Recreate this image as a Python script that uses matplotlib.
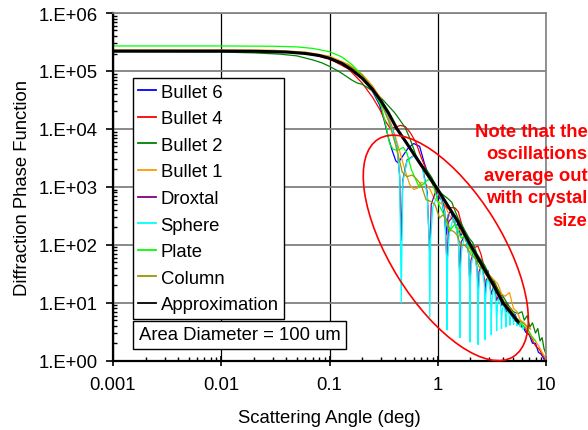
import numpy as np
import matplotlib
matplotlib.use("Agg")
import matplotlib.pyplot as plt
from matplotlib.patches import Ellipse
from matplotlib.transforms import IdentityTransform
from matplotlib.ticker import LogLocator, NullFormatter

plt.rcParams['font.family'] = ['Liberation Sans', 'DejaVu Sans']

# values: (scattering angle in deg, phase function)
bullet6 = [(0.001, 2.2e5), (0.01, 2.2e5), (0.03, 2.19e5), (0.06, 2.04e5), (0.1, 1.68e5),
           (0.15, 1.2e5), (0.2, 7.6e4), (0.25, 4.4e4), (0.29, 2.6e4), (0.32, 1.4e4),
           (0.35, 7.0e3), (0.38, 4.2e3), (0.41, 2.8e3), (0.43, 2.6e3), (0.47, 3.3e3),
           (0.53, 4.6e3), (0.6, 5.6e3), (0.68, 5.0e3), (0.75, 2.6e3), (0.82, 1.6e3),
           (0.9, 1150), (0.96, 850), (1.02, 620), (1.08, 680), (1.15, 320),
           (1.2, 150), (1.25, 330), (1.32, 380), (1.4, 260), (1.48, 200),
           (1.55, 250), (1.62, 140), (1.7, 170), (1.8, 130), (1.9, 100),
           (2.0, 110), (2.1, 70), (2.2, 80), (2.35, 50), (2.5, 55),
           (2.7, 33), (2.9, 36), (3.1, 22), (3.3, 24), (3.5, 15),
           (3.8, 14), (4.1, 10), (4.4, 9.5), (4.8, 6.8), (5.2, 6.2),
           (5.6, 4.3), (6.0, 4.1), (6.5, 3.1), (7.0, 2.8), (7.5, 2.0),
           (8.0, 2.0), (8.5, 1.4), (9.0, 1.3), (9.5, 1.1), (10.0, 0.9)]

bullet4 = [(0.001, 2.25e5), (0.01, 2.25e5), (0.03, 2.22e5), (0.06, 2.04e5), (0.1, 1.62e5),
           (0.15, 1.08e5), (0.2, 6.2e4), (0.25, 3.5e4), (0.29, 2.2e4), (0.33, 1.35e4),
           (0.36, 1.05e4), (0.4, 1.05e4), (0.45, 1.15e4), (0.5, 1.1e4), (0.56, 8.5e3),
           (0.63, 5.8e3), (0.7, 3.3e3), (0.78, 2.0e3), (0.86, 1.3e3), (0.95, 900),
           (1.05, 650), (1.15, 480), (1.25, 420), (1.35, 440), (1.45, 430),
           (1.55, 370), (1.65, 240), (1.75, 170), (1.9, 130), (2.05, 95),
           (2.2, 90), (2.35, 95), (2.5, 70), (2.7, 40), (2.9, 33),
           (3.1, 25), (3.4, 20), (3.7, 15), (4.0, 11), (4.4, 9),
           (4.8, 7), (5.2, 5.5), (5.7, 4.5), (6.2, 4.0), (6.8, 3.0),
           (7.4, 2.4), (8.0, 1.8), (8.6, 1.6), (9.2, 1.3), (9.7, 1.1), (10.0, 0.95)]

bullet2 = [(0.001, 2.15e5), (0.01, 2.12e5), (0.02, 2.05e5), (0.035, 1.95e5), (0.05, 1.82e5),
           (0.07, 1.55e5), (0.085, 1.38e5), (0.1, 1.2e5), (0.12, 1.0e5), (0.14, 8.3e4),
           (0.16, 7.0e4), (0.18, 6.2e4), (0.2, 5.9e4), (0.23, 5.0e4), (0.27, 4.1e4),
           (0.31, 3.2e4), (0.35, 2.5e4), (0.4, 1.9e4), (0.45, 1.4e4), (0.5, 1.05e4),
           (0.55, 7.0e3), (0.6, 4.5e3), (0.66, 2.7e3), (0.72, 2.3e3), (0.8, 1.9e3),
           (0.88, 1450), (0.96, 1050), (1.05, 800), (1.15, 700), (1.25, 620),
           (1.35, 540), (1.45, 380), (1.55, 280), (1.65, 230), (1.8, 170),
           (1.95, 130), (2.1, 110), (2.3, 70), (2.5, 55), (2.7, 45),
           (3.0, 30), (3.3, 24), (3.6, 17), (4.0, 13), (4.5, 9),
           (5.0, 7), (5.5, 6.5), (6.0, 7), (6.3, 5), (6.7, 6),
           (7.1, 3.8), (7.5, 4.5), (8.0, 3.0), (8.4, 3.6), (8.8, 2.2),
           (9.2, 2.5), (9.6, 1.6), (10.0, 1.3)]

bullet1 = [(0.001, 2.3e5), (0.01, 2.3e5), (0.03, 2.28e5), (0.06, 2.12e5), (0.1, 1.8e5),
           (0.15, 1.3e5), (0.2, 8.8e4), (0.25, 5.5e4), (0.3, 3.3e4), (0.35, 1.7e4),
           (0.4, 8.0e3), (0.45, 3.8e3), (0.5, 1.9e3), (0.55, 1100), (0.6, 900),
           (0.65, 950), (0.7, 1200), (0.78, 1100), (0.85, 900), (0.92, 650),
           (1.0, 560), (1.1, 500), (1.2, 420), (1.3, 310), (1.4, 260),
           (1.5, 200), (1.6, 180), (1.75, 140), (1.9, 95), (2.05, 80),
           (2.2, 65), (2.4, 55), (2.6, 40), (2.8, 33), (3.0, 30),
           (3.3, 25), (3.6, 21), (3.9, 14), (4.2, 13), (4.6, 15),
           (5.0, 8), (5.4, 7), (5.8, 5), (6.3, 4.5), (6.8, 3.5),
           (7.4, 2.6), (8.0, 2.2), (8.7, 1.7), (9.4, 1.3), (10.0, 1.1)]

droxtal = [(0.001, 2.2e5), (0.01, 2.2e5), (0.03, 2.2e5), (0.06, 2.02e5), (0.1, 1.68e5),
           (0.15, 1.18e5), (0.2, 7.7e4), (0.26, 4.2e4), (0.32, 2.2e4), (0.38, 1.0e4),
           (0.42, 5.0e3), (0.445, 1.5e3), (0.46, 120), (0.475, 1.3e3), (0.52, 2.9e3),
           (0.62, 3.6e3), (0.72, 2.3e3), (0.8, 800), (0.845, 60), (0.87, 500),
           (0.95, 800), (1.04, 830), (1.16, 380), (1.22, 40), (1.26, 250),
           (1.41, 320), (1.55, 130), (1.6, 25), (1.64, 110), (1.79, 150),
           (1.93, 70), (1.98, 18), (2.03, 55), (2.17, 78), (2.31, 38),
           (2.36, 14), (2.41, 35), (2.55, 45), (2.7, 25), (2.74, 12),
           (2.8, 25), (2.95, 28), (3.12, 14), (3.3, 20), (3.5, 11),
           (3.7, 14), (3.9, 9), (4.1, 10), (4.3, 7), (4.6, 7.2),
           (5.0, 5.2), (5.5, 4.5), (6.0, 3.8)]

sphere = [(0.001, 2.25e5), (0.01, 2.25e5), (0.03, 2.22e5), (0.06, 2.05e5), (0.1, 1.7e5),
          (0.15, 1.2e5), (0.2, 7.8e4), (0.26, 4.3e4), (0.32, 2.2e4), (0.38, 1.0e4),
          (0.42, 5.0e3), (0.445, 1.5e3), (0.46, 10), (0.475, 1.2e3), (0.52, 2.8e3),
          (0.62, 3.6e3), (0.72, 2.2e3), (0.8, 700), (0.832, 120), (0.845, 5.7),
          (0.858, 120), (0.9, 450), (1.03, 850), (1.16, 350), (1.205, 60),
          (1.22, 3.4), (1.235, 60), (1.28, 160), (1.41, 320), (1.55, 120),
          (1.588, 30), (1.6, 2.5), (1.612, 30), (1.66, 80), (1.79, 155),
          (1.93, 70), (1.97, 18), (1.98, 2.1), (1.99, 18), (2.04, 45),
          (2.17, 80), (2.31, 35), (2.35, 10), (2.36, 1.9), (2.37, 10),
          (2.42, 28), (2.55, 46), (2.69, 22), (2.73, 8), (2.74, 2.3),
          (2.75, 8), (2.8, 18), (2.93, 30), (3.07, 15), (3.11, 6),
          (3.12, 2.8), (3.13, 6), (3.18, 12), (3.31, 20), (3.45, 10),
          (3.49, 5), (3.5, 3.3), (3.51, 5), (3.56, 9), (3.69, 14),
          (3.83, 8), (3.87, 5), (3.88, 3.6), (3.89, 5), (3.94, 7),
          (4.07, 10.5), (4.21, 6.5), (4.25, 4.5), (4.26, 3.8), (4.27, 4.5),
          (4.32, 6), (4.45, 8), (4.6, 5.5), (4.64, 4.1), (4.68, 5.3),
          (4.83, 6.8), (4.98, 5), (5.02, 4.2), (5.06, 5), (5.21, 5.9),
          (5.36, 4.6), (5.4, 4.0), (5.44, 4.5), (5.59, 5.2), (5.74, 4.3),
          (5.78, 3.8), (5.82, 4.2), (5.97, 4.6), (6.12, 3.9), (6.16, 3.5), (6.2, 3.8)]

plate = [(0.001, 2.7e5), (0.01, 2.7e5), (0.03, 2.67e5), (0.05, 2.6e5), (0.07, 2.45e5),
         (0.1, 2.15e5), (0.13, 1.75e5), (0.16, 1.3e5), (0.2, 8.5e4), (0.25, 4.6e4),
         (0.3, 2.5e4), (0.33, 1.2e4), (0.36, 5.5e3), (0.39, 4.4e3), (0.43, 4.3e3),
         (0.48, 4.8e3), (0.52, 3.8e3), (0.57, 2.0e3), (0.62, 1.4e3), (0.67, 1.0e3),
         (0.73, 1.1e3), (0.8, 1.3e3), (0.87, 1.35e3), (0.95, 800), (1.03, 480),
         (1.1, 380), (1.2, 260), (1.28, 170), (1.36, 200), (1.45, 230),
         (1.55, 170), (1.65, 130), (1.75, 140), (1.9, 110), (2.05, 75),
         (2.2, 65), (2.4, 50), (2.6, 38), (2.8, 32), (3.0, 24),
         (3.3, 19), (3.6, 14), (4.0, 10), (4.4, 8), (4.8, 6.5),
         (5.2, 5.5), (5.7, 4.5), (6.2, 4.0), (6.8, 3.4), (7.4, 2.6), (8.0, 2.2)]

column = [(0.001, 2.2e5), (0.01, 2.2e5), (0.03, 2.18e5), (0.06, 2.05e5), (0.1, 1.72e5),
          (0.15, 1.25e5), (0.2, 8.5e4), (0.25, 5.2e4), (0.3, 2.8e4), (0.35, 1.4e4),
          (0.4, 6.0e3), (0.43, 3.6e3), (0.47, 1.8e3), (0.52, 1.5e3), (0.58, 1.6e3),
          (0.63, 1.4e3), (0.7, 1.1e3), (0.78, 600), (0.86, 560), (0.94, 500),
          (1.04, 290), (1.12, 330), (1.2, 280), (1.3, 180), (1.4, 170),
          (1.5, 150), (1.64, 97), (1.75, 100), (1.9, 85), (2.05, 65),
          (2.2, 60), (2.4, 42), (2.6, 38), (2.8, 30), (3.0, 25),
          (3.3, 19), (3.6, 16), (3.9, 12), (4.3, 9), (4.7, 8),
          (5.1, 6), (5.6, 5), (6.1, 4.5), (6.6, 4.0), (7.2, 3.5)]

approximation = [(0.001, 2.2e5), (0.01, 2.2e5), (0.02, 2.19e5), (0.04, 2.12e5), (0.06, 2.0e5),
                 (0.08, 1.85e5), (0.1, 1.65e5), (0.13, 1.35e5), (0.16, 1.05e5), (0.2, 7.5e4),
                 (0.25, 4.8e4), (0.3, 3.0e4), (0.35, 1.9e4), (0.42, 1.0e4), (0.5, 6.2e3),
                 (0.6, 3.7e3), (0.7, 2.4e3), (0.8, 1.65e3), (1.0, 900), (1.2, 520),
                 (1.5, 270), (2.0, 100), (2.5, 48), (3.0, 27), (4.0, 10),
                 (5.0, 5.9), (5.5, 4.7)]

series_names = ["Bullet 6", "Bullet 4", "Bullet 2", "Bullet 1", "Droxtal",
                "Sphere", "Plate", "Column", "Approximation"]
series_data = [bullet6, bullet4, bullet2, bullet1, droxtal,
               sphere, plate, column, approximation]
series_colors = ["#0000FF", "#FF0000", "#008000", "#FF9900", "#800080",
                 "#00FFFF", "#00FF00", "#999900", "#000000"]

x_ticks = [0.001, 0.01, 0.1, 1, 10]
x_tick_labels = ["0.001", "0.01", "0.1", "1", "10"]
y_ticks = [1, 10, 100, 1e3, 1e4, 1e5, 1e6]
y_tick_labels = ["1.E+00", "1.E+01", "1.E+02", "1.E+03", "1.E+04", "1.E+05", "1.E+06"]

note_text = "Note that the\noscillations\naverage out\nwith crystal\nsize"
box_text = "Area Diameter = 100 um"

FS = 13.3

fig = plt.figure(figsize=(5.88, 4.31), dpi=100)
ax = fig.add_axes([113 / 588, 1 - 361.7 / 431, 433 / 588, 347.7 / 431])

for name, pts, col in zip(series_names, series_data, series_colors):
    arr = np.array(pts)
    lw = 2.2 if name == "Approximation" else 0.9
    ax.plot(arr[:, 0], arr[:, 1], color=col, lw=lw, label=name)

ax.set_xscale('log')
ax.set_yscale('log')
ax.set_xlim(0.001, 10)
ax.set_ylim(1, 1e6)

ax.set_xticks(x_ticks)
ax.set_xticklabels(x_tick_labels, fontsize=FS)
ax.set_yticks(y_ticks)
ax.set_yticklabels(y_tick_labels, fontsize=FS)
ax.xaxis.set_minor_locator(LogLocator(base=10, subs=np.arange(2, 10)))
ax.yaxis.set_minor_locator(LogLocator(base=10, subs=np.arange(2, 10)))
ax.xaxis.set_minor_formatter(NullFormatter())
ax.yaxis.set_minor_formatter(NullFormatter())

ax.tick_params(axis='x', which='major', direction='inout', length=6.5, width=1.2, pad=8)
ax.tick_params(axis='x', which='minor', direction='in', length=3, width=1)
ax.tick_params(axis='y', which='major', direction='out', length=5, width=1.2, pad=6)
ax.tick_params(axis='y', which='minor', direction='in', length=3, width=1)

ax.set_axisbelow(True)
ax.grid(which='major', axis='y', color='#808080', lw=1.3)
ax.grid(which='major', axis='x', color='black', lw=0.9)
for s in ['left', 'bottom']:
    ax.spines[s].set_linewidth(1.6)
for s in ['top', 'right']:
    ax.spines[s].set_color('#808080')
    ax.spines[s].set_linewidth(1.2)

ax.set_xlabel("Scattering Angle (deg)", fontsize=FS)
ax.set_ylabel("Diffraction Phase Function", fontsize=FS)
ax.xaxis.set_label_coords(0.5, -0.14)
ax.yaxis.set_label_coords(-0.19, 0.5)

leg = ax.legend(loc='upper left', bbox_to_anchor=(0.046, 0.813), borderaxespad=0,
                fontsize=FS, frameon=True, fancybox=False, framealpha=1,
                edgecolor='black', handlelength=0.95, handletextpad=0.25,
                borderpad=0.3, labelspacing=0.52)
leg.get_frame().set_linewidth(1.0)
for h in leg.get_lines():
    h.set_linewidth(1.3)

ax.text(0.293, 0.074, box_text, transform=ax.transAxes,
        fontsize=FS, ha='center', va='center',
        bbox=dict(boxstyle='square,pad=0.3', fc='white', ec='black', lw=1.0))

fig.text(0.999, 1 - 176.7 / 431, note_text, color='red', fontsize=FS,
         fontweight='bold', ha='right', va='center', multialignment='right',
         linespacing=1.4)

ell = Ellipse((445.8, 431 - 248.9), 256, 112, angle=-58.2,
              transform=IdentityTransform(), fill=False, ec='red', lw=1.2)
fig.add_artist(ell)

fig.savefig("out.png", dpi=100)
